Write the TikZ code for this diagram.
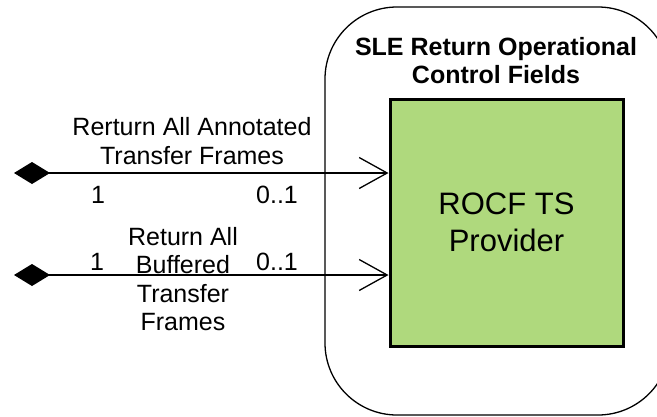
\documentclass[tikz,border=0pt]{standalone}
\usepackage{fontspec}
\setmainfont{Liberation Sans}
\usetikzlibrary{arrows.meta}
\definecolor{providergreen}{RGB}{175,217,125}
\tikzset{
  rocf diagram/.style={
    x=1pt, y=-1pt,
    every node/.style={inner sep=0pt, font=\fontsize{25}{28.5}\selectfont},
  },
  subsystem/.style={draw, line width=1.3pt, rounded corners=72pt},
  provider/.style={
    draw, line width=3pt, fill=providergreen,
    minimum width=233pt, minimum height=247pt,
    align=center, font=\fontsize{31}{37}\selectfont,
  },
  assoc/.style={
    line width=1.3pt,
    {Diamond[length=36pt,width=22pt,fill=black]}-{Straight Barb[length=28pt,width=31pt,line width=1.3pt]},
  },
  multiplicity/.style={anchor=base},
}

\begin{document}
\begin{tikzpicture}[
  rocf diagram,
]
\useasboundingbox (0,0) rectangle (657,416);

\draw [subsystem] (325,7) rectangle (670,415);
\node [font=\bfseries\fontsize{25}{28}\selectfont, align=center] (title) at (496,61)
  {SLE Return Operational\\Control Fields};

\node [provider] (rocf) at (506.5,222.5) {ROCF TS\\Provider};

% associations
\coordinate (src1) at (14,173);
\coordinate (src2) at (14,275);
\draw [assoc] (src1) -- (src1 -| rocf.west);
\draw [assoc] (src2) -- (src2 -| rocf.west);

\node [align=center] (annotated) at (192,141) {Rerturn All Annotated\\Transfer Frames};
\node [align=center] (buffered) at (183,279) {Return All\\Buffered\\Transfer\\Frames};

\node [multiplicity] (m1a) at (98,203) {1};
\node [multiplicity] (m1b) at (277,203) {0..1};
\node [multiplicity] (m2a) at (97,270) {1};
\node [multiplicity] (m2b) at (277,270) {0..1};
\end{tikzpicture}
\end{document}
